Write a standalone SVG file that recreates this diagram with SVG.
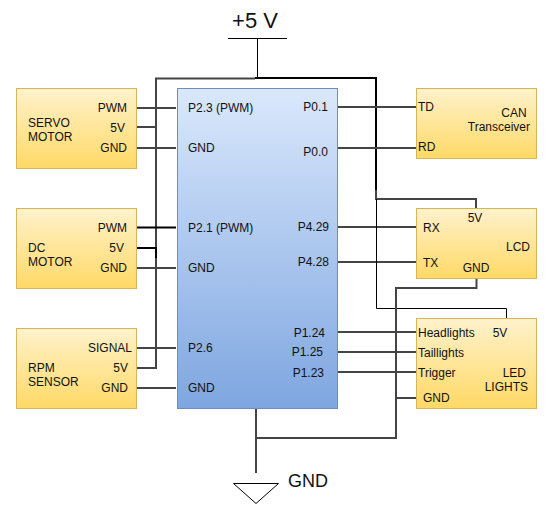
<svg xmlns="http://www.w3.org/2000/svg" width="555" height="511" viewBox="0 0 555 511">
<style>
text{font-family:"Liberation Sans",Arial,sans-serif;font-size:12px;fill:#111}
.y{fill:url(#gy);stroke:#d6b656}
.b{fill:url(#gb);stroke:#6c8ebf}
.w{fill:none;stroke:#444;stroke-width:2}
.k{fill:none;stroke:#000;stroke-width:2}
.t{fill:none;stroke:#000;stroke-width:1}
.e{text-anchor:end}.m{text-anchor:middle}
</style>
<defs>
<linearGradient id="gy" x1="0" y1="0" x2="0" y2="1"><stop offset="0" stop-color="#fff2cc"/><stop offset="1" stop-color="#ffd966"/></linearGradient>
<linearGradient id="gb" x1="0" y1="0" x2="0" y2="1"><stop offset="0" stop-color="#dae8fc"/><stop offset="1" stop-color="#7ea6e0"/></linearGradient>
</defs>
<rect width="555" height="511" fill="#fff"/>
<g id="connectors">
<path class="w" d="M136 108H176M136 127H156M136 148H176M136 268H176M136 348H176M136 368H156V78.500H255"/>
<path class="k" d="M136 227.500H176M136 248H156V258"/>
<path class="k" d="M255 78H376V198"/>
<path class="t" d="M257.500 38V78"/>
<path class="w" d="M337 107H416M337 148H416M337 227H416M337 262H416M337 332H416M337 352H416M337 372H416M136 388H176"/>
<path class="w" d="M376 190V199H476V208"/>
<path class="t" d="M376.500 199V308.500H506.500V318"/>
<path class="w" d="M476.500 279V288H396V438H256M256 409V473M396 398H416"/>
</g>
<g id="servo"><rect class="y" x="16.500" y="88.500" width="120" height="80"/>
<text x="28" y="127">SERVO</text><text x="28" y="141">MOTOR</text>
<text class="e" x="127" y="112">PWM</text><text class="e" x="125" y="132">5V</text><text class="e" x="127" y="152">GND</text></g>
<g id="dc"><rect class="y" x="16.500" y="208.500" width="120" height="80"/>
<text x="28" y="252">DC</text><text x="28" y="266">MOTOR</text>
<text class="e" x="127" y="232">PWM</text><text class="e" x="124" y="252">5V</text><text class="e" x="127" y="272">GND</text></g>
<g id="rpm"><rect class="y" x="16.500" y="328.500" width="120" height="80"/>
<text x="28" y="372">RPM</text><text x="28" y="386">SENSOR</text>
<text class="e" x="132" y="352">SIGNAL</text><text class="e" x="128" y="372">5V</text><text class="e" x="128" y="392">GND</text></g>
<g id="mcu"><rect class="b" x="177.500" y="88.500" width="160" height="320"/>
<text x="188" y="112">P2.3 (PWM)</text><text x="188" y="152">GND</text><text x="188" y="232">P2.1 (PWM)</text><text x="188" y="272">GND</text><text x="188" y="352">P2.6</text><text x="188" y="392">GND</text>
<text class="e" x="328" y="111">P0.1</text><text class="e" x="328" y="156">P0.0</text><text class="e" x="329" y="231">P4.29</text><text class="e" x="329" y="266">P4.28</text><text class="e" x="325" y="337">P1.24</text><text class="e" x="323" y="356">P1.25</text><text class="e" x="324" y="377">P1.23</text></g>
<g id="can"><rect class="y" x="416.500" y="88.500" width="120" height="70"/>
<text x="418" y="111">TD</text><text x="418" y="151">RD</text>
<text class="m" x="514" y="117">CAN</text><text class="e" x="530" y="131">Transceiver</text></g>
<g id="lcd"><rect class="y" x="416.500" y="208.500" width="120" height="70"/>
<text x="423" y="232">RX</text><text x="423" y="267">TX</text><text class="m" x="475" y="222">5V</text><text class="m" x="476" y="272">GND</text><text class="e" x="530" y="251">LCD</text></g>
<g id="led"><rect class="y" x="416.500" y="318.500" width="120" height="90"/>
<text x="418" y="337">Headlights</text><text x="418" y="357">Taillights</text><text x="418" y="377">Trigger</text><text x="423" y="402">GND</text>
<text class="m" x="500" y="337">5V</text><text class="e" x="526" y="377">LED</text><text class="e" x="528" y="391">LIGHTS</text></g>
<g id="vcc"><path class="t" d="M228 38.500H287"/><text class="m" x="255" y="28" style="font-size:22px">+5 V</text></g>
<g id="gnd"><path d="M233.500 483.500H278.500L256 503.500Z" fill="#fff" stroke="#000"/><text x="288" y="487" style="font-size:18px">GND</text></g>
</svg>
